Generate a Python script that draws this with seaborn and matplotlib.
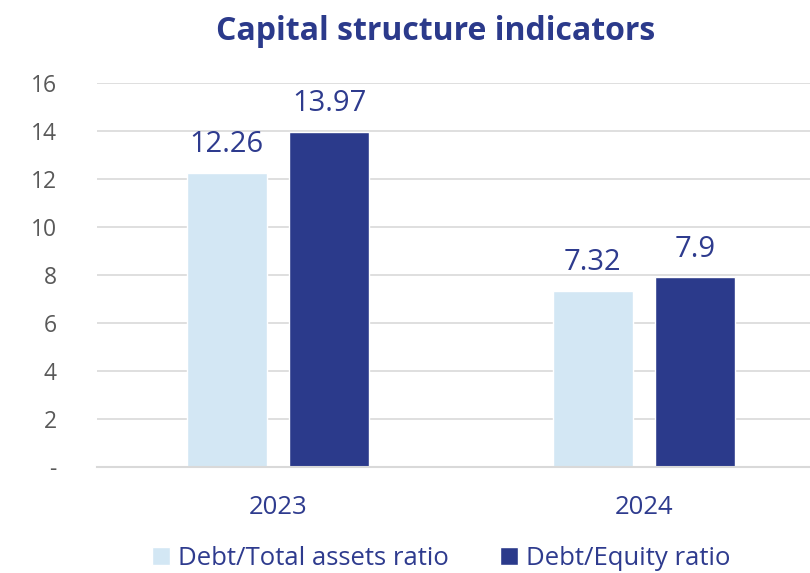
import matplotlib
matplotlib.use("Agg")
import matplotlib.pyplot as plt
from matplotlib.ticker import FixedLocator
import pandas as pd
import seaborn as sns

years = ["2023", "2024"]
series = ["Debt/Total assets ratio", "Debt/Equity ratio"]
debt_total_assets = [12.26, 7.32]
debt_equity = [13.97, 7.9]
y_ticks = [0, 2, 4, 6, 8, 10, 12, 14, 16]
y_tick_labels = ["-", "2", "4", "6", "8", "10", "12", "14", "16"]

df = pd.DataFrame({
    "year": years * 2,
    "series": [series[0]] * 2 + [series[1]] * 2,
    "value": debt_total_assets + debt_equity,
})

sns.set_theme(style="white")
plt.rcParams["font.family"] = ["Open Sans", "DejaVu Sans"]

NAVY = "#2B3A8B"
LIGHT = "#D3E7F4"
TEXT_BLUE = "#2E3B8E"
GRID = "#D9D9D9"

fig = plt.figure(figsize=(8.10, 5.73), dpi=100)
ax = fig.add_axes([97 / 810, 1 - 467 / 573, (810 - 97) / 810, (467 - 83) / 573])

sns.barplot(data=df, x="year", y="value", hue="series", hue_order=series,
            palette=[LIGHT, NAVY], width=0.56, gap=0.22, saturation=1,
            legend=True, ax=ax)

ax.set_ylim(0, 16)
ax.set_xlim(-0.495, 1.454)
ax.yaxis.set_major_locator(FixedLocator(y_ticks))
ax.set_yticklabels(y_tick_labels)
ax.grid(axis="y", color=GRID, linewidth=1.2)
ax.set_axisbelow(True)
for s in ["top", "right", "left"]:
    ax.spines[s].set_visible(False)
ax.spines["bottom"].set_color(GRID)
ax.spines["bottom"].set_linewidth(1.5)
ax.tick_params(axis="y", length=0, pad=29, labelsize=16.5, labelcolor="#595959")
ax.tick_params(axis="x", length=0, pad=20, labelsize=18.5, labelcolor=TEXT_BLUE)
ax.set_xlabel("")
ax.set_ylabel("")

for container in ax.containers:
    ax.bar_label(container, labels=[f"{v:g}" for v in container.datavalues],
                 padding=10, fontsize=21, color=TEXT_BLUE)

ax.legend(loc="center", bbox_to_anchor=(0.483, -0.237), ncol=2, frameon=False,
          fontsize=18.5, labelcolor=TEXT_BLUE, handlelength=0.7, handleheight=0.7,
          handletextpad=0.3, columnspacing=2.0, borderpad=0)

fig.text(0.538, 0.945, "Capital structure indicators", ha="center", va="center",
         fontsize=23, fontweight="bold", color=NAVY)

fig.savefig("out.png", dpi=100)
